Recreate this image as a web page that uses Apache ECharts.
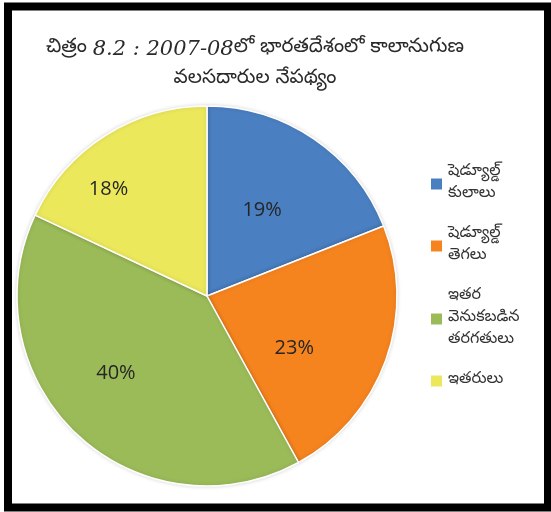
<!DOCTYPE html>
<html lang="te">
<head>
    <meta charset="UTF-8">
    <title>కాలానుగుణ వలసదారుల నేపథ్యం</title>
    <script src="https://cdn.jsdelivr.net/npm/echarts@6/dist/echarts.min.js"></script>
    <style>
        html, body { margin: 0; padding: 0; background: #fff; }
        #chart { width: 551px; height: 512px; }
    </style>
</head>
<body>
    <div id="chart"></div>

    <script>
        // 2007-08 భారతదేశంలో కాలానుగుణ వలసదారుల నేపథ్యం (%)
        const categories = ['షెడ్యూల్డ్\nకులాలు', 'షెడ్యూల్డ్\nతెగలు', 'ఇతర\nవెనుకబడిన\nతరగతులు', 'ఇతరులు'];
        const shares = [19, 23, 40, 18];
        const colors = ['#4a7fc1', '#f5841f', '#9bbb59', '#ebe85c'];
        const titleText = 'చిత్రం {n|8.2 : 2007-08}లో భారతదేశంలో కాలానుగుణ\nవలసదారుల నేపథ్యం';

        // nudges so the percentages sit where the original placed them
        const labelNudge = [[0, -5], [-5, 19], [-24, 6], [-46, -24]];

        const teluguFont = "'Noto Sans Telugu', 'Noto Sans', sans-serif";

        const chart = echarts.init(document.getElementById('chart'));

        chart.setOption({
            animation: false,
            color: colors,
            title: {
                text: titleText,
                left: 250,
                top: 29,
                textAlign: 'center',
                textStyle: {
                    fontFamily: teluguFont,
                    fontSize: 20,
                    fontWeight: 'normal',
                    color: '#2a2a2a',
                    lineHeight: 31,
                    align: 'center',
                    rich: {
                        n: {
                            fontFamily: "'DejaVu Serif', serif",
                            fontStyle: 'italic',
                            fontSize: 21,
                            color: '#2a2a2a',
                            lineHeight: 31
                        }
                    }
                }
            },
            legend: {
                orient: 'vertical',
                left: 424,
                top: 157,
                itemWidth: 13,
                itemHeight: 13,
                itemGap: 18,
                icon: 'rect',
                textStyle: {
                    fontFamily: teluguFont,
                    fontSize: 16,
                    lineHeight: 22,
                    color: '#333'
                }
            },
            graphic: [{
                // picture frame
                type: 'rect',
                shape: { x: 8, y: 6.5, width: 540, height: 501 },
                style: { fill: 'none', stroke: '#000', lineWidth: 8 },
                silent: true
            }],
            series: [{
                type: 'pie',
                center: [207, 296],
                radius: 190,
                startAngle: 90,
                clockwise: true,
                data: categories.map((name, i) => ({
                    name: name,
                    value: shares[i],
                    label: { offset: labelNudge[i] }
                })),
                itemStyle: {
                    borderColor: '#fff',
                    borderWidth: 1.5,
                    shadowBlur: 4,
                    shadowColor: 'rgba(0,0,0,0.15)'
                },
                label: {
                    position: 'inside',
                    formatter: '{d}%',
                    fontFamily: "'Open Sans', 'Liberation Sans', sans-serif",
                    fontSize: 20,
                    color: '#262626'
                },
                labelLine: { show: false },
                emphasis: { disabled: true }
            }]
        });
    </script>
</body>
</html>
